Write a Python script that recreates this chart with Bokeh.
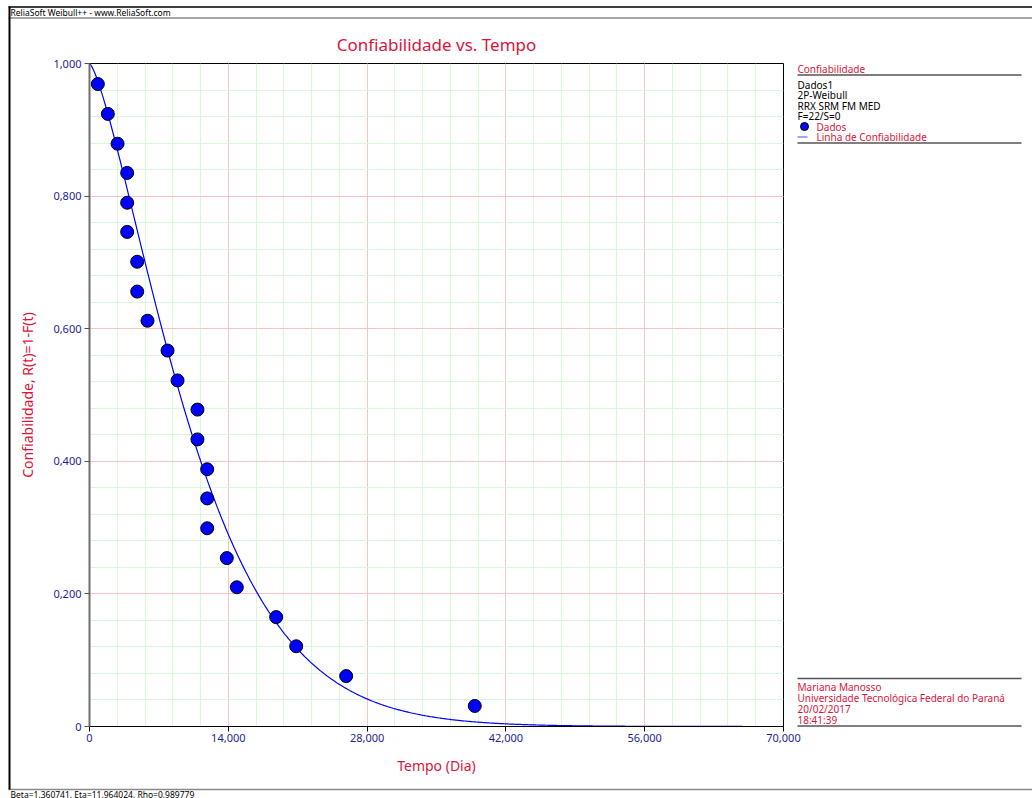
import numpy as np
from bokeh.plotting import figure
from bokeh.models import Range1d, FixedTicker
from bokeh.core.properties import value
from bokeh.embed import file_html
from bokeh.resources import INLINE

# ---------------- data ----------------
tempo = [840, 1850, 2830, 3800, 3800, 3800, 4810, 4810, 5850, 7870, 8880,
         10890, 10890, 11870, 11870, 11870, 13850, 14860, 18830, 20850, 25890, 38860]
confiab = [0.969, 0.924, 0.879, 0.835, 0.790, 0.746, 0.701, 0.656, 0.612, 0.567, 0.522,
           0.478, 0.433, 0.388, 0.344, 0.299, 0.254, 0.210, 0.165, 0.121, 0.076, 0.031]
beta = 1.360741
eta = 11964.024  # days
x_ticks = [0, 14000, 28000, 42000, 56000, 70000]
x_tick_labels = ["0", "14,000", "28,000", "42,000", "56,000", "70,000"]
y_ticks = [0, 0.2, 0.4, 0.6, 0.8, 1.0]
y_tick_labels = ["0", "0,200", "0,400", "0,600", "0,800", "1,000"]
x_minor = [i * 2800 for i in range(26)]
y_minor = [i * 0.04 for i in range(26)]

title = "Confiabilidade vs. Tempo"
header = "ReliaSoft Weibull++ - www.ReliaSoft.com"
footer = "Beta=1,360741, Eta=11,964024, Rho=0,989779"
legend_head = "Confiabilidade"
legend_info = ["Dados1", "2P-Weibull", "RRX SRM FM MED", "F=22/S=0"]
legend_items = ["Dados", "Linha de Confiabilidade"]
author_info = ["Mariana Manosso", "Universidade Tecnológica Federal do Paraná",
               "20/02/2017", "18:41:39"]

# ---------------- layout ----------------
W, H = 1032, 798
FL, FR, FT, FB = 89, 783, 63, 726
XMAX = 70000.0
FONT = "Noto Sans"
FONT_V = value(FONT)
RED = "#dc143c"
NAVY = "#1e1e96"

p = figure(width=W, height=H, output_backend="svg", toolbar_location=None,
           x_range=Range1d(0, XMAX), y_range=Range1d(0, 1),
           min_border_left=FL, min_border_right=W - FR,
           min_border_top=FT, min_border_bottom=H - FB)
p.background_fill_color = "white"
p.border_fill_color = "white"
p.outline_line_color = "black"
p.outline_line_width = 1

xt = FixedTicker(ticks=x_ticks, minor_ticks=x_minor)
yt = FixedTicker(ticks=y_ticks, minor_ticks=y_minor)
p.xaxis.ticker = xt
p.yaxis.ticker = yt
p.xgrid.ticker = xt
p.ygrid.ticker = yt
p.xaxis.major_label_overrides = dict(zip(x_ticks, x_tick_labels))
p.yaxis.major_label_overrides = dict(zip(y_ticks, y_tick_labels))

for g in (p.xgrid, p.ygrid):
    g.grid_line_color = "#f6c4c4"
    g.grid_line_width = 1
    g.minor_grid_line_color = "#d9f7d9"
    g.minor_grid_line_width = 1

for ax in (p.xaxis, p.yaxis):
    ax.major_label_text_font = FONT
    ax.major_label_text_font_size = "11px"
    ax.major_label_text_color = NAVY
    ax.axis_label_text_font = FONT
    ax.axis_label_text_font_size = "14px"
    ax.axis_label_text_font_style = "normal"
    ax.axis_label_text_color = RED
    ax.major_tick_out = 5
    ax.major_tick_in = 0
    ax.minor_tick_out = 0
    ax.minor_tick_in = 0

p.xaxis.axis_label = "Tempo (Dia)"
p.yaxis.axis_label = "Confiabilidade, R(t)=1-F(t)"
p.xaxis.axis_line_color = "black"
p.xaxis.major_tick_line_color = "black"
p.xaxis.major_label_standoff = 2
p.xaxis.axis_label_standoff = 11
p.yaxis.axis_line_color = "#707070"
p.yaxis.axis_line_width = 2
p.yaxis.major_tick_line_color = "#505050"
p.yaxis.major_label_standoff = 3
p.yaxis.axis_label_standoff = 13

# fitted Weibull reliability line
t = np.linspace(0, XMAX, 600)
r = np.exp(-(t / eta) ** beta)
p.line(t, r, line_color="#0000ff", line_width=1.2)

# data points
p.scatter(tempo, confiab, size=13, fill_color="#0000ff", line_color="black", line_width=1)

# ---------------- decoration overlay (page pixel coordinates) ----------------
o = figure(width=W, height=H, output_backend="svg", toolbar_location=None,
           x_range=Range1d(0, W), y_range=Range1d(H, 0),
           x_axis_type=None, y_axis_type=None,
           min_border=0, min_border_left=0, min_border_right=0,
           min_border_top=0, min_border_bottom=0,
           styles={"position": "absolute", "left": "0px", "top": "0px",
                   "z-index": "2", "pointer-events": "none"})
o.grid.visible = False
o.outline_line_color = None
o.background_fill_alpha = 0
o.border_fill_alpha = 0


def txt(xs, ys, ss, color="black", size="10px", align="left"):
    o.text(x=xs, y=ys, text=ss, text_font=FONT_V, text_font_size=size,
           text_color=color, text_baseline="middle", text_align=align)


# frame of the page
o.segment(x0=[8, 8, 8, 9], y0=[6.5, 17.5, 789, 6], x1=[W, W, W, 9], y1=[6.5, 17.5, 789, 789],
          line_color=["black", "#8a8a8a", "#8a8a8a", "black"], line_width=[1.5, 1.5, 1.5, 2])
txt([10], [12], [header], size="8.5px")
txt([10], [793.5], [footer], size="8.5px")
txt([436], [44], [title], color=RED, size="17px", align="center")

# legend panel
o.segment(x0=[797, 797, 797, 797], y0=[74.5, 142.5, 678, 725.5],
          x1=[1021, 1021, 1021, 1021], y1=[74.5, 142.5, 678, 725.5],
          line_color="#555555", line_width=1.5)
txt([797], [68], [legend_head], color=RED)
txt([797] * len(legend_info), [84 + i * 10.5 for i in range(len(legend_info))], legend_info)
o.scatter([804], [126], size=8, fill_color="#0000ff", line_color="black", line_width=1)
o.segment(x0=[797], y0=[136.5], x1=[807], y1=[136.5], line_color="#4a4aff", line_width=1.2)
txt([816, 816], [126, 136.5], legend_items, color=RED)
txt([797] * len(author_info), [686 + i * 11.3 for i in range(len(author_info))],
    author_info, color=RED)

open("out.html", "w").write(file_html([p, o], INLINE))
